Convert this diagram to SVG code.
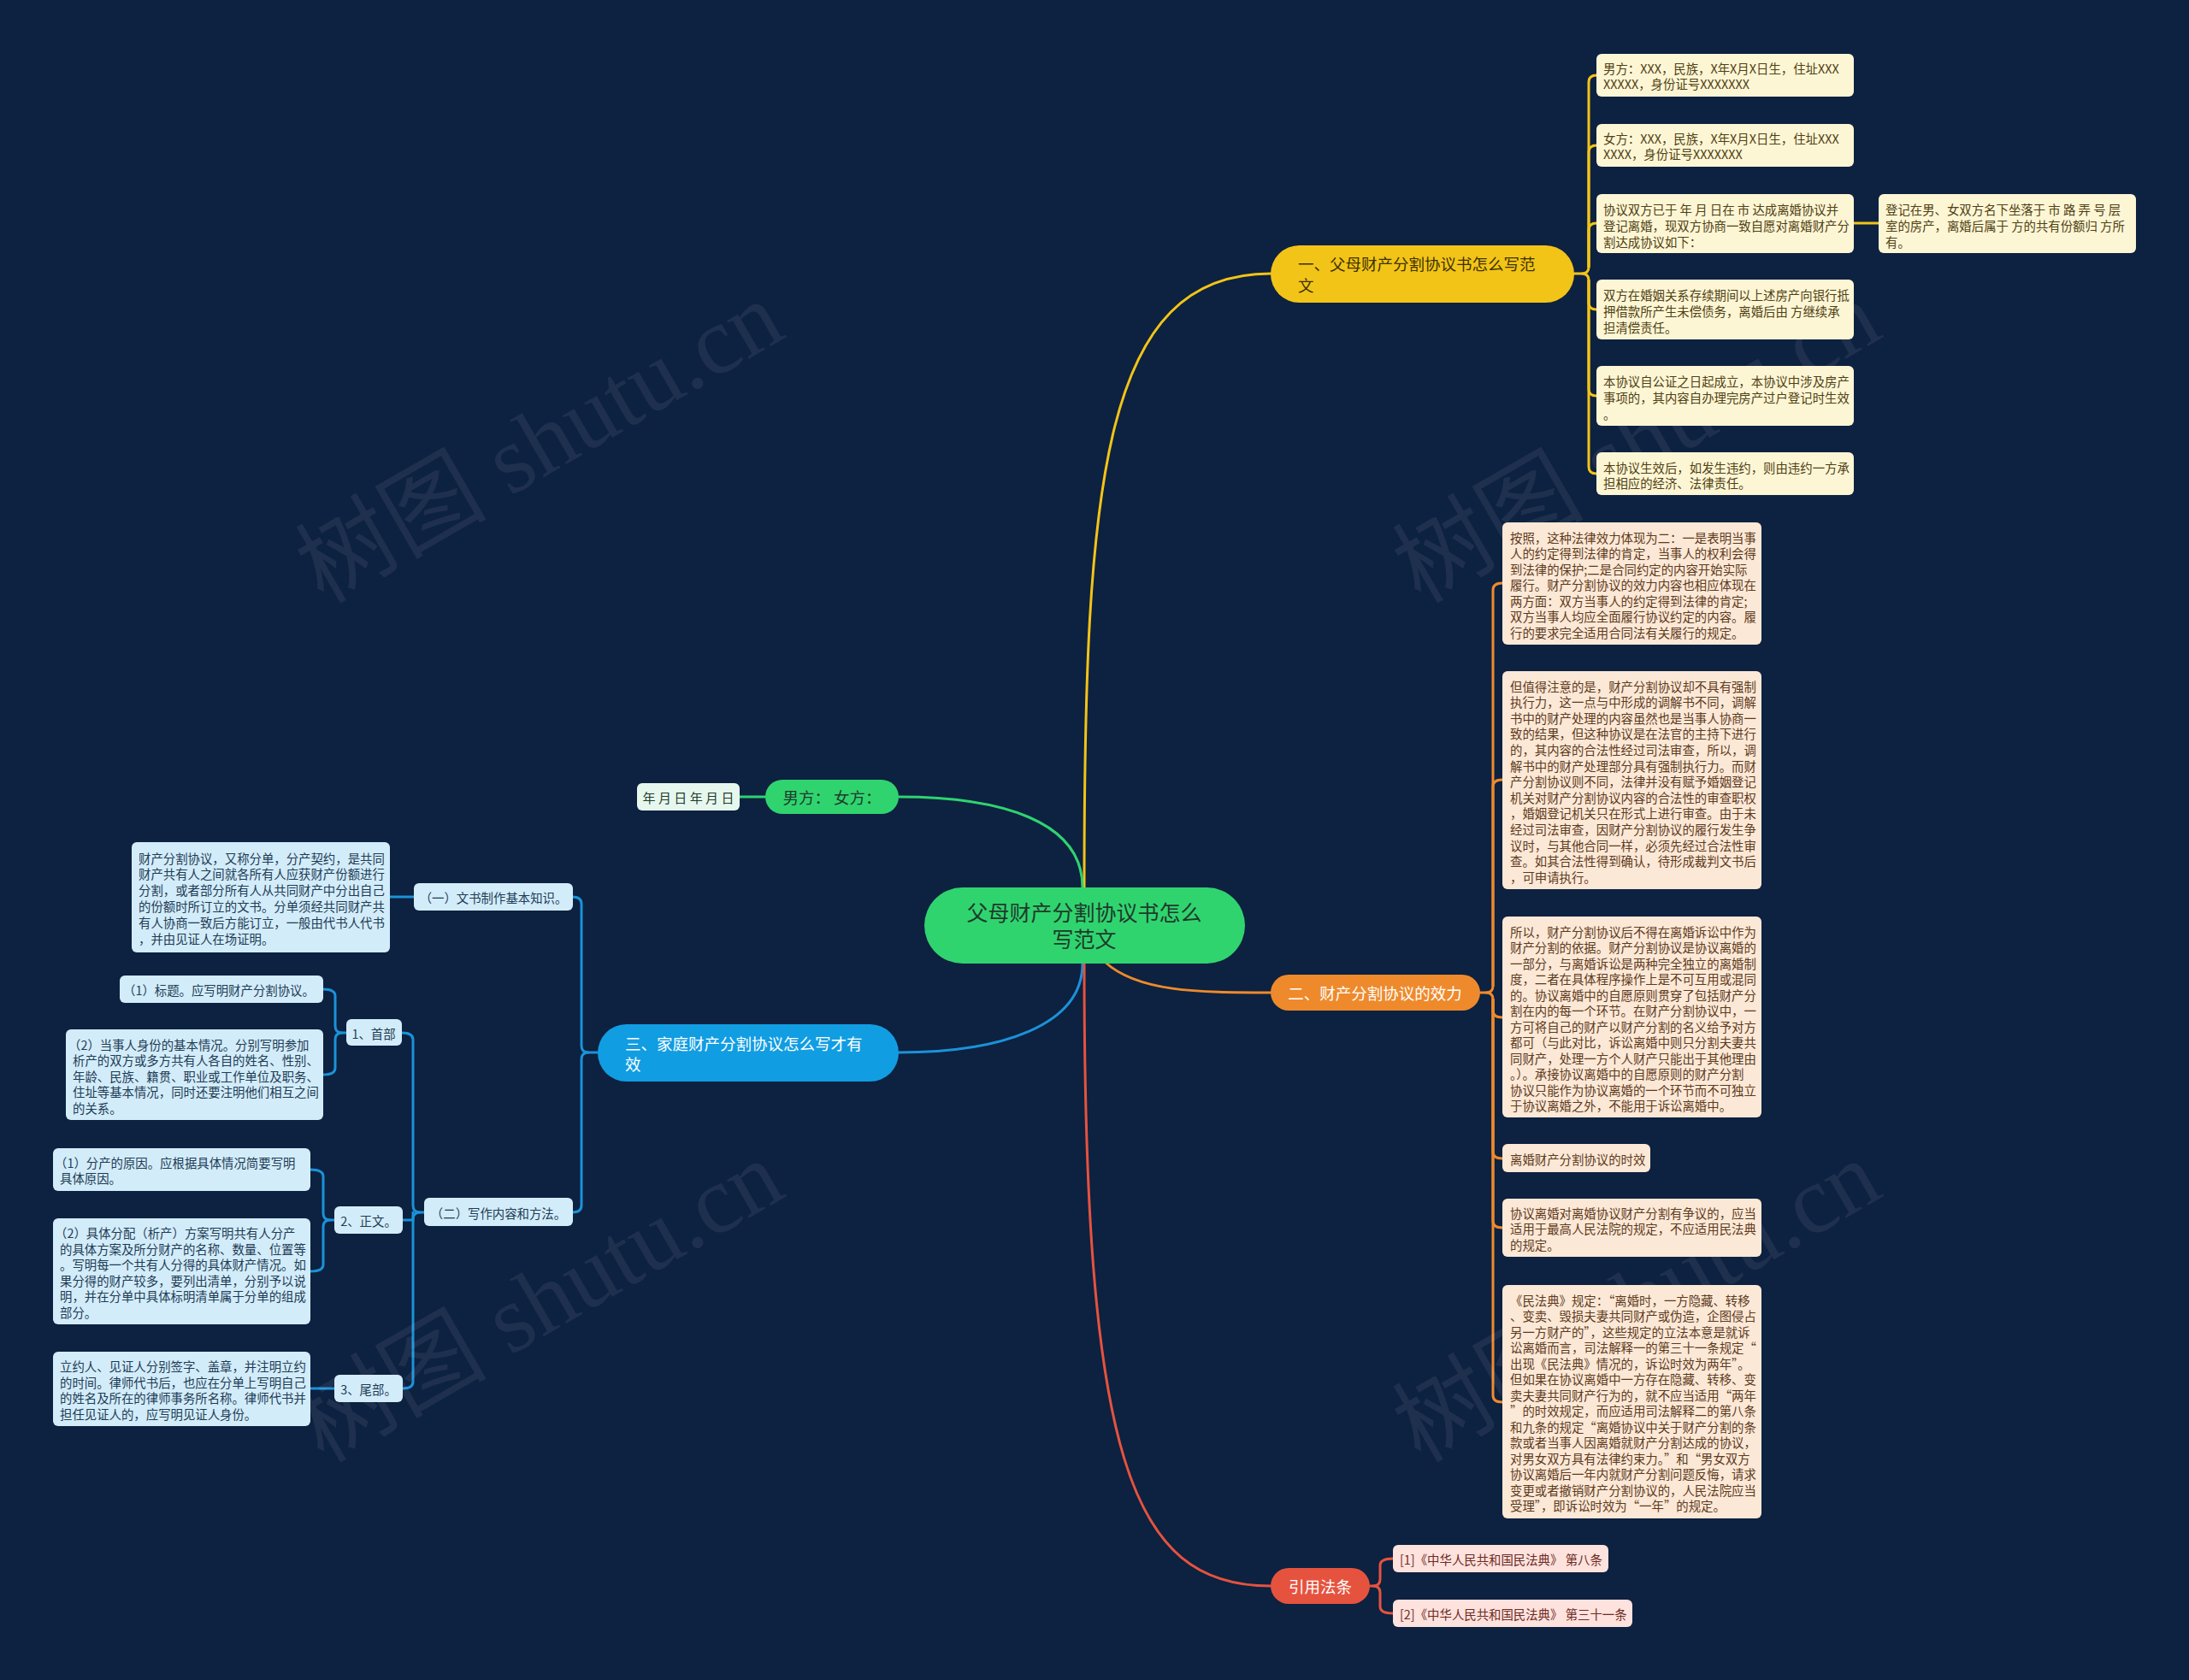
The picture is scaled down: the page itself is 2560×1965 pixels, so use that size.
<svg xmlns="http://www.w3.org/2000/svg" width="2560" height="1965" viewBox="0 0 2560 1965">
<style>
text{font-family:"Noto Sans CJK SC","Noto Sans",sans-serif;dominant-baseline:central}
.s{font-size:14.4px}
.m{font-size:18.5px}
.yb{fill:#fdf6d5}.yt{fill:#4f4012}
.ob{fill:#fce8d6}.ot{fill:#5c3a1c}
.bb{fill:#d3ecf9}.bt{fill:#1c3b55}
.rb{fill:#fde2de}.rt{fill:#6e2a22}
.wm{font-family:"Liberation Serif","Noto Sans CJK SC",serif;font-size:112px;fill:#ffffff;fill-opacity:0.07;dominant-baseline:auto}
.ln{fill:none;stroke-width:3;stroke-linecap:round}
.ly{stroke:#f2c418}.lo{stroke:#ee8a2c}.lb{stroke:#1b92d8}.lg{stroke:#2fd36f}.lr{stroke:#e5533f}
</style>
<rect width="2560" height="1965" fill="#0d2140"/>
<g id="connectors">
<path class="ln ly" d="M1268,1038 C1268,560 1290,320 1486,320"/>
<path class="ln lg" d="M1051,932 C1170,932 1266,960 1266,1038"/>
<path class="ln lb" d="M1051,1231 C1170,1231 1266,1200 1266,1127"/>
<path class="ln lo" d="M1292,1125 C1330,1160 1400,1161 1486,1161"/>
<path class="ln lr" d="M1268,1127 C1268,1700 1320,1855 1486,1855"/>
<path class="ln ly" d="M1840,320 H1850 Q1858,320 1858,312 V96 Q1858,88 1867,88"/>
<path class="ln ly" d="M1858,312 V178 Q1858,170 1867,170"/>
<path class="ln ly" d="M1858,312 V269 Q1858,261 1867,261"/>
<path class="ln ly" d="M1850,320 Q1858,320 1858,328 V354 Q1858,362 1867,362"/>
<path class="ln ly" d="M1858,328 V455 Q1858,463 1867,463"/>
<path class="ln ly" d="M1858,328 V546 Q1858,554 1867,554"/>
<path class="ln ly" d="M2168,261 H2197"/>
<path class="ln lo" d="M1731,1161 H1738 Q1746,1161 1746,1153 V690 Q1746,682 1757,682"/>
<path class="ln lo" d="M1746,1153 V920 Q1746,912 1757,912"/>
<path class="ln lo" d="M1738,1161 Q1746,1161 1746,1169 V1182 Q1746,1190 1757,1190"/>
<path class="ln lo" d="M1746,1169 V1347 Q1746,1355 1757,1355"/>
<path class="ln lo" d="M1746,1169 V1428 Q1746,1436 1757,1436"/>
<path class="ln lo" d="M1746,1169 V1632 Q1746,1640 1757,1640"/>
<path class="ln lr" d="M1602,1855 H1606 Q1614,1855 1614,1847 V1831 Q1614,1823 1629,1823"/>
<path class="ln lr" d="M1606,1855 Q1614,1855 1614,1863 V1879 Q1614,1887 1629,1887"/>
<path class="ln lg" d="M865,932 H895"/>
<path class="ln lb" d="M699,1231 H688 Q680,1231 680,1223 V1057 Q680,1049 669,1049"/>
<path class="ln lb" d="M688,1231 Q680,1231 680,1239 V1410 Q680,1418 669,1418"/>
<path class="ln lb" d="M484,1049 H456"/>
<path class="ln lb" d="M496,1418 H491 Q483,1418 483,1410 V1216 Q483,1208 470,1208"/>
<path class="ln lb" d="M483,1418 V1427 H471"/>
<path class="ln lb" d="M491,1418 Q483,1418 483,1426 V1616 Q483,1624 471,1624"/>
<path class="ln lb" d="M405,1208 H400 Q392,1208 392,1200 V1165 Q392,1157 378,1157"/>
<path class="ln lb" d="M400,1208 Q392,1208 392,1216 V1249 Q392,1257 378,1257"/>
<path class="ln lb" d="M391,1427 H386 Q378,1427 378,1419 V1376 Q378,1368 363,1368"/>
<path class="ln lb" d="M386,1427 Q378,1427 378,1435 V1479 Q378,1487 363,1487"/>
<path class="ln lb" d="M391,1624 H363"/>
</g>
<g id="watermarks">
<text class="wm" text-anchor="middle" transform="translate(650,550) rotate(-30)">树图 shutu.cn</text>
<text class="wm" text-anchor="middle" transform="translate(1933,550) rotate(-30)">树图 shutu.cn</text>
<text class="wm" text-anchor="middle" transform="translate(650,1555) rotate(-30)">树图 shutu.cn</text>
<text class="wm" text-anchor="middle" transform="translate(1933,1555) rotate(-30)">树图 shutu.cn</text>
</g>
<g id="root">
<rect x="1081" y="1038" width="375" height="89" rx="44.5" fill="#30d46f"/>
<text x="1268" y="1066" text-anchor="middle" font-size="25" fill="#1f3a2b">父母财产分割协议书怎么</text>
<text x="1268" y="1097" text-anchor="middle" font-size="25" fill="#1f3a2b">写范文</text>
</g>
<g id="b1">
<rect x="1486" y="287" width="355" height="67" rx="33.5" fill="#f2c418"/>
<text class="m" x="1518" y="308" fill="#3d3100">一、父母财产分割协议书怎么写范</text>
<text class="m" x="1518" y="333" fill="#3d3100">文</text>
</g>
<g id="b1c1"><rect class="yb" x="1867" y="63" width="301" height="50" rx="6"/>
<text class="s yt" x="1875" y="79">男方：XXX，民族，X年X月X日生，住址XXX</text>
<text class="s yt" x="1875" y="97">XXXXX，身份证号XXXXXXX</text></g>
<g id="b1c2"><rect class="yb" x="1867" y="145" width="301" height="50" rx="6"/>
<text class="s yt" x="1875" y="161">女方：XXX，民族，X年X月X日生，住址XXX</text>
<text class="s yt" x="1875" y="179">XXXX，身份证号XXXXXXX</text></g>
<g id="b1c3"><rect class="yb" x="1867" y="227" width="301" height="69" rx="6"/>
<text class="s yt" x="1875" y="244">协议双方已于 年 月 日在 市 达成离婚协议并</text>
<text class="s yt" x="1875" y="263">登记离婚，现双方协商一致自愿对离婚财产分</text>
<text class="s yt" x="1875" y="282">割达成协议如下：</text></g>
<g id="b1c3c1"><rect class="yb" x="2197" y="227" width="301" height="69" rx="6"/>
<text class="s yt" x="2205" y="244">登记在男、女双方名下坐落于 市 路 弄 号 层</text>
<text class="s yt" x="2205" y="263">室的房产，离婚后属于 方的共有份额归 方所</text>
<text class="s yt" x="2205" y="282">有。</text></g>
<g id="b1c4"><rect class="yb" x="1867" y="327" width="301" height="70" rx="6"/>
<text class="s yt" x="1875" y="344">双方在婚姻关系存续期间以上述房产向银行抵</text>
<text class="s yt" x="1875" y="363">押借款所产生未偿债务，离婚后由 方继续承</text>
<text class="s yt" x="1875" y="382">担清偿责任。</text></g>
<g id="b1c5"><rect class="yb" x="1867" y="428" width="301" height="70" rx="6"/>
<text class="s yt" x="1875" y="445">本协议自公证之日起成立，本协议中涉及房产</text>
<text class="s yt" x="1875" y="464">事项的，其内容自办理完房产过户登记时生效</text>
<text class="s yt" x="1875" y="483">。</text></g>
<g id="b1c6"><rect class="yb" x="1867" y="529" width="301" height="50" rx="6"/>
<text class="s yt" x="1875" y="546">本协议生效后，如发生违约，则由违约一方承</text>
<text class="s yt" x="1875" y="564">担相应的经济、法律责任。</text></g>
<g id="b2">
<rect x="1486" y="1140" width="245" height="42" rx="21" fill="#ee8a2c"/>
<text class="m" x="1608" y="1161" text-anchor="middle" fill="#ffffff">二、财产分割协议的效力</text>
</g>
<g id="b2c1"><rect class="ob" x="1757" y="611" width="303" height="143" rx="6"/>
<text class="s ot" x="1766" y="628">按照，这种法律效力体现为二：一是表明当事</text>
<text class="s ot" x="1766" y="646.5">人的约定得到法律的肯定，当事人的权利会得</text>
<text class="s ot" x="1766" y="665">到法律的保护;二是合同约定的内容开始实际</text>
<text class="s ot" x="1766" y="683.5">履行。财产分割协议的效力内容也相应体现在</text>
<text class="s ot" x="1766" y="702">两方面：双方当事人的约定得到法律的肯定;</text>
<text class="s ot" x="1766" y="720.5">双方当事人均应全面履行协议约定的内容。履</text>
<text class="s ot" x="1766" y="739">行的要求完全适用合同法有关履行的规定。</text></g>
<g id="b2c2"><rect class="ob" x="1757" y="785" width="303" height="255" rx="6"/>
<text class="s ot" x="1766" y="802">但值得注意的是，财产分割协议却不具有强制</text>
<text class="s ot" x="1766" y="820.6">执行力，这一点与中形成的调解书不同，调解</text>
<text class="s ot" x="1766" y="839.2">书中的财产处理的内容虽然也是当事人协商一</text>
<text class="s ot" x="1766" y="857.8">致的结果，但这种协议是在法官的主持下进行</text>
<text class="s ot" x="1766" y="876.4">的，其内容的合法性经过司法审查，所以，调</text>
<text class="s ot" x="1766" y="895">解书中的财产处理部分具有强制执行力。而财</text>
<text class="s ot" x="1766" y="913.6">产分割协议则不同，法律并没有赋予婚姻登记</text>
<text class="s ot" x="1766" y="932.2">机关对财产分割协议内容的合法性的审查职权</text>
<text class="s ot" x="1766" y="950.8">，婚姻登记机关只在形式上进行审查。由于未</text>
<text class="s ot" x="1766" y="969.4">经过司法审查，因财产分割协议的履行发生争</text>
<text class="s ot" x="1766" y="988">议时，与其他合同一样，必须先经过合法性审</text>
<text class="s ot" x="1766" y="1006.6">查。如其合法性得到确认，待形成裁判文书后</text>
<text class="s ot" x="1766" y="1025.2">，可申请执行。</text></g>
<g id="b2c3"><rect class="ob" x="1757" y="1072" width="303" height="235" rx="6"/>
<text class="s ot" x="1766" y="1089">所以，财产分割协议后不得在离婚诉讼中作为</text>
<text class="s ot" x="1766" y="1107.5">财产分割的依据。财产分割协议是协议离婚的</text>
<text class="s ot" x="1766" y="1126">一部分，与离婚诉讼是两种完全独立的离婚制</text>
<text class="s ot" x="1766" y="1144.5">度，二者在具体程序操作上是不可互用或混同</text>
<text class="s ot" x="1766" y="1163">的。协议离婚中的自愿原则贯穿了包括财产分</text>
<text class="s ot" x="1766" y="1181.5">割在内的每一个环节。在财产分割协议中，一</text>
<text class="s ot" x="1766" y="1200">方可将自己的财产以财产分割的名义给予对方</text>
<text class="s ot" x="1766" y="1218.5">都可（与此对比，诉讼离婚中则只分割夫妻共</text>
<text class="s ot" x="1766" y="1237">同财产，处理一方个人财产只能出于其他理由</text>
<text class="s ot" x="1766" y="1255.5">。）。承接协议离婚中的自愿原则的财产分割</text>
<text class="s ot" x="1766" y="1274">协议只能作为协议离婚的一个环节而不可独立</text>
<text class="s ot" x="1766" y="1292.5">于协议离婚之外，不能用于诉讼离婚中。</text></g>
<g id="b2c4"><rect class="ob" x="1757" y="1338" width="173" height="33" rx="6"/>
<text class="s ot" x="1766" y="1355">离婚财产分割协议的时效</text></g>
<g id="b2c5"><rect class="ob" x="1757" y="1402" width="303" height="68" rx="6"/>
<text class="s ot" x="1766" y="1418">协议离婚对离婚协议财产分割有争议的，应当</text>
<text class="s ot" x="1766" y="1436.5">适用于最高人民法院的规定，不应适用民法典</text>
<text class="s ot" x="1766" y="1455">的规定。</text></g>
<g id="b2c6"><rect class="ob" x="1757" y="1503" width="303" height="273" rx="6"/>
<text class="s ot" x="1766" y="1520">《民法典》规定：“离婚时，一方隐藏、转移</text>
<text class="s ot" x="1766" y="1538.5">、变卖、毁损夫妻共同财产或伪造，企图侵占</text>
<text class="s ot" x="1766" y="1557">另一方财产的”，这些规定的立法本意是就诉</text>
<text class="s ot" x="1766" y="1575.5">讼离婚而言，司法解释一的第三十一条规定“</text>
<text class="s ot" x="1766" y="1594">出现《民法典》情况的，诉讼时效为两年”。</text>
<text class="s ot" x="1766" y="1612.5">但如果在协议离婚中一方存在隐藏、转移、变</text>
<text class="s ot" x="1766" y="1631">卖夫妻共同财产行为的，就不应当适用“两年</text>
<text class="s ot" x="1766" y="1649.5">”的时效规定，而应适用司法解释二的第八条</text>
<text class="s ot" x="1766" y="1668">和九条的规定“离婚协议中关于财产分割的条</text>
<text class="s ot" x="1766" y="1686.5">款或者当事人因离婚就财产分割达成的协议，</text>
<text class="s ot" x="1766" y="1705">对男女双方具有法律约束力。”和“男女双方</text>
<text class="s ot" x="1766" y="1723.5">协议离婚后一年内就财产分割问题反悔，请求</text>
<text class="s ot" x="1766" y="1742">变更或者撤销财产分割协议的，人民法院应当</text>
<text class="s ot" x="1766" y="1760.5">受理”，即诉讼时效为“一年”的规定。</text></g>
<g id="b3">
<rect x="699" y="1198" width="352" height="67" rx="33.5" fill="#119de2"/>
<text class="m" x="731" y="1220" fill="#ffffff">三、家庭财产分割协议怎么写才有</text>
<text class="m" x="731" y="1244" fill="#ffffff">效</text>
</g>
<g id="b3c1"><rect class="bb" x="484" y="1033" width="186" height="32" rx="6"/>
<text class="s bt" x="577" y="1049" text-anchor="middle">（一）文书制作基本知识。</text></g>
<g id="b3c1c1"><rect class="bb" x="154" y="985" width="302" height="129" rx="6"/>
<text class="s bt" x="162" y="1003">财产分割协议，又称分单，分产契约，是共同</text>
<text class="s bt" x="162" y="1021.8">财产共有人之间就各所有人应获财产份额进行</text>
<text class="s bt" x="162" y="1040.6">分割，或者部分所有人从共同财产中分出自己</text>
<text class="s bt" x="162" y="1059.4">的份额时所订立的文书。分单须经共同财产共</text>
<text class="s bt" x="162" y="1078.2">有人协商一致后方能订立，一般由代书人代书</text>
<text class="s bt" x="162" y="1097">，并由见证人在场证明。</text></g>
<g id="b3c2"><rect class="bb" x="496" y="1401" width="174" height="33" rx="6"/>
<text class="s bt" x="583" y="1418" text-anchor="middle">（二）写作内容和方法。</text></g>
<g id="b3c2c1"><rect class="bb" x="405" y="1192" width="65" height="31" rx="6"/>
<text class="s bt" x="437" y="1208" text-anchor="middle">1、首部</text></g>
<g id="b3c2c1c1"><rect class="bb" x="140" y="1141" width="238" height="32" rx="6"/>
<text class="s bt" x="144" y="1157">（1）标题。应写明财产分割协议。</text></g>
<g id="b3c2c1c2"><rect class="bb" x="77" y="1204" width="301" height="106" rx="6"/>
<text class="s bt" x="80" y="1221">（2）当事人身份的基本情况。分别写明参加</text>
<text class="s bt" x="85" y="1239.5">析产的双方或多方共有人各自的姓名、性别、</text>
<text class="s bt" x="85" y="1258">年龄、民族、籍贯、职业或工作单位及职务、</text>
<text class="s bt" x="85" y="1276.5">住址等基本情况，同时还要注明他们相互之间</text>
<text class="s bt" x="85" y="1295">的关系。</text></g>
<g id="b3c2c2"><rect class="bb" x="391" y="1411" width="80" height="32" rx="6"/>
<text class="s bt" x="431" y="1427" text-anchor="middle">2、正文。</text></g>
<g id="b3c2c2c1"><rect class="bb" x="62" y="1343" width="301" height="50" rx="6"/>
<text class="s bt" x="64" y="1359">（1）分产的原因。应根据具体情况简要写明</text>
<text class="s bt" x="70" y="1377.5">具体原因。</text></g>
<g id="b3c2c2c2"><rect class="bb" x="62" y="1425" width="301" height="124" rx="6"/>
<text class="s bt" x="64" y="1441.5">（2）具体分配（析产）方案写明共有人分产</text>
<text class="s bt" x="70" y="1460">的具体方案及所分财产的名称、数量、位置等</text>
<text class="s bt" x="70" y="1478.5">。写明每一个共有人分得的具体财产情况。如</text>
<text class="s bt" x="70" y="1497">果分得的财产较多，要列出清单，分别予以说</text>
<text class="s bt" x="70" y="1515.5">明，并在分单中具体标明清单属于分单的组成</text>
<text class="s bt" x="70" y="1534">部分。</text></g>
<g id="b3c2c3"><rect class="bb" x="391" y="1608" width="80" height="32" rx="6"/>
<text class="s bt" x="431" y="1624" text-anchor="middle">3、尾部。</text></g>
<g id="b3c2c3c1"><rect class="bb" x="62" y="1581" width="301" height="87" rx="6"/>
<text class="s bt" x="70" y="1597.5">立约人、见证人分别签字、盖章，并注明立约</text>
<text class="s bt" x="70" y="1616">的时间。律师代书后，也应在分单上写明自己</text>
<text class="s bt" x="70" y="1634.5">的姓名及所在的律师事务所名称。律师代书并</text>
<text class="s bt" x="70" y="1653">担任见证人的，应写明见证人身份。</text></g>
<g id="b4">
<rect x="895" y="912" width="156" height="40" rx="20" fill="#30d46f"/>
<text class="m" x="973" y="932" text-anchor="middle" fill="#1f3a2b">男方： 女方：</text>
</g>
<g id="b4c1"><rect x="745" y="916" width="120" height="32" rx="6" fill="#e6f8ee"/>
<text x="805" y="932" text-anchor="middle" font-size="15" fill="#1f3a2b">年 月 日 年 月 日</text></g>
<g id="b5">
<rect x="1486" y="1834" width="116" height="42" rx="21" fill="#e5533f"/>
<text class="m" x="1544" y="1855" text-anchor="middle" fill="#ffffff">引用法条</text>
</g>
<g id="b5c1"><rect class="rb" x="1629" y="1807" width="252" height="32" rx="6"/>
<text class="s rt" x="1637" y="1823">[1]《中华人民共和国民法典》 第八条</text></g>
<g id="b5c2"><rect class="rb" x="1629" y="1871" width="280" height="32" rx="6"/>
<text class="s rt" x="1637" y="1887">[2]《中华人民共和国民法典》 第三十一条</text></g>
</svg>
